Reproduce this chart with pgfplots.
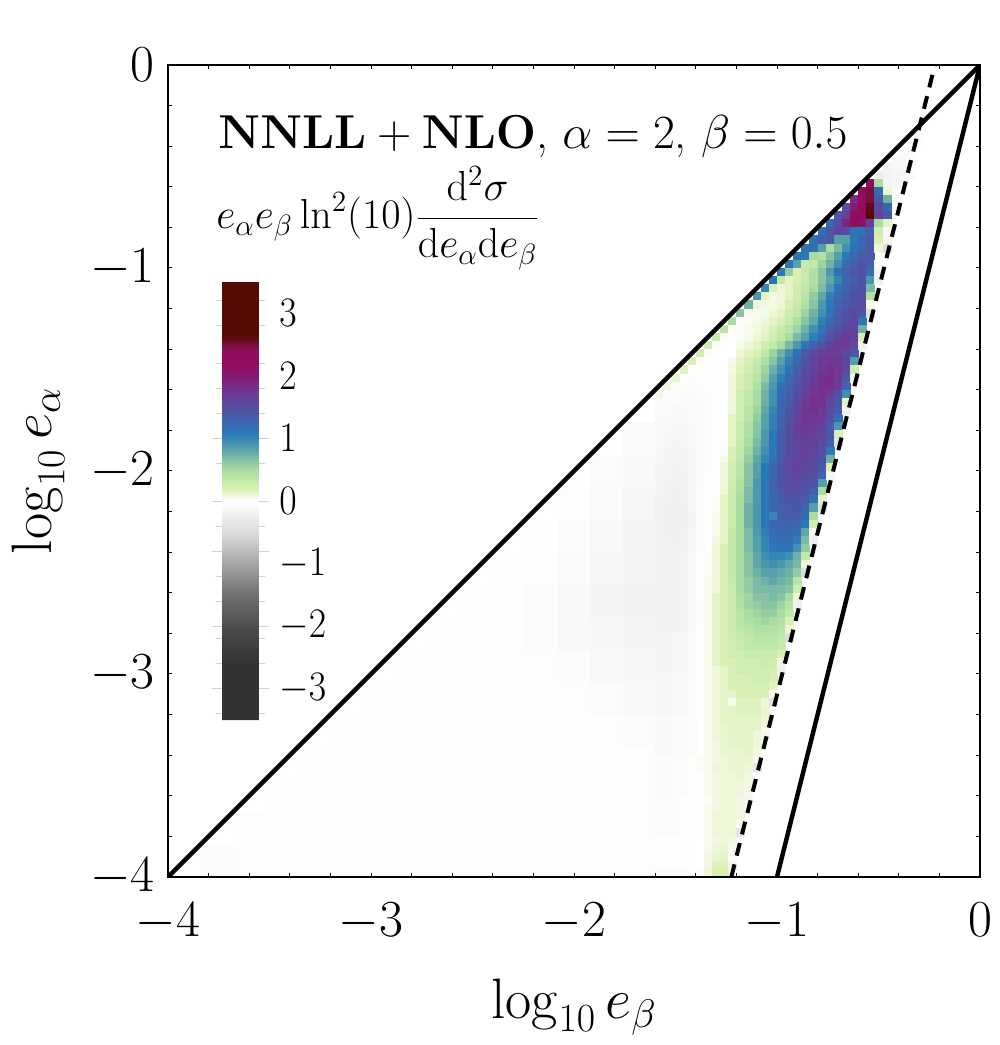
\RequirePackage{fix-cm}
\documentclass[border=0pt]{standalone}
\usepackage{pgfplots}
\usepackage{pgfplotstable}
\pgfplotsset{compat=1.18}

% all cell values are in units of 0.05 (60 = 3); 0 = empty cell
% coarse table: faint background, blocks of 4x4 cells, j = lower row
\pgfplotstableread{
j c0 c4 c8 c12 c16 c20 c24 c28 c32 c36 c40 c44 c48 c52 c56
52 0 0 0 0 0 0 0 0 0 0 0 0 0 0 -1.5
48 0 0 0 0 0 0 0 0 0 0 0 0 0 -1 -2
44 0 0 0 0 0 0 0 0 0 0 0 0 -.5 -1.5 -2.5
40 0 0 0 0 0 0 0 0 0 0 0 -.3 -1 -2 -3
36 0 0 0 0 0 0 0 0 0 0 -.2 -.5 -1.5 -2.5 -3
32 0 0 0 0 0 0 0 0 0 -.2 -.3 -1 -2 -3 -3.5
28 0 0 0 0 0 0 0 0 -.2 -.3 -.5 -1 -2 -2.5 -3
24 0 0 0 0 0 0 0 -.2 -.3 -.3 -.5 -.7 -1.2 -2 -2.5
20 0 0 0 0 0 0 -.2 .1 .1 .15 .15 -.2 -.5 -1 -2
16 0 0 0 0 0 -.2 .1 .15 .2 .2 .2 .2 .1 -.5 -1
12 0 0 0 0 -.3 -.2 .1 .15 .2 .2 .2 .2 .1 -.3 -.5
8 0 0 0 -.4 -.3 -.2 -.2 .1 .15 .15 .15 .1 -.2 -.3 -.5
4 0 0 -.7 -.5 -.4 -.4 -.4 -.3 -.3 -.3 -.3 -.3 -.3 -.5 -.5
0 0 -.8 -.7 -.6 -.6 -.6 -.6 -.6 -.6 -.6 -.6 -.6 -.6 -.6 -.7
}\coarse

% top right corner, above the main table
\pgfplotstableread{
j c87 c88 c89 c90 c91 c92
91 0 0 0 0 0 -.5
90 0 0 0 0 -1 -.5
89 0 0 0 -1 -1 0
88 0 0 -2 -1.5 -.5 0
87 0 -3 -2 -2 -1 0
86 -4 -3 -2.5 -2.5 -1 0
85 0 0 -2.5 -3 0 0
84 0 0 -1.5 -1 0 0
83 0 0 -2 0 0 0
82 0 0 -1 0 0 0
81 0 0 -.5 0 0 0
}\corner

% main table: row j, columns i = 60..88, cell i covers -4+0.04i .. -4+0.04(i+1)
\pgfplotstableread{
j c60 c61 c62 c63 c64 c65 c66 c67 c68 c69 c70 c71 c72 c73 c74 c75 c76 c77 c78 c79 c80 c81 c82 c83 c84 c85 c86 c87 c88
85 0 0 0 0 0  0 0 0 0 0  0 0 0 0 0  0 0 0 0 0  0 0 0 0 0  0 44 10 -3
84 0 0 0 0 0  0 0 0 0 0  0 0 0 0 0  0 0 0 0 0  0 0 0 0 0  44 50 24 2
83 0 0 0 0 0  0 0 0 0 0  0 0 0 0 0  0 0 0 0 0  0 0 0 0 37  44 50 28 15
82 0 0 0 0 0  0 0 0 0 0  0 0 0 0 0  0 0 0 0 0  0 0 0 30 40  44 52 31 25
81 0 0 0 0 0  0 0 0 0 0  0 0 0 0 0  0 0 0 0 0  0 0 28 34 44  44 56 33 28
80 0 0 0 0 0  0 0 0 0 0  0 0 0 0 0  0 0 0 0 0  0 25 31 38 44  42 34 10 3
79 0 0 0 0 0  0 0 0 0 0  0 0 0 0 0  0 0 0 0 0  24 28 32 30 23  23 27 5 -2
78 0 0 0 0 0  0 0 0 0 0  0 0 0 0 0  0 0 0 0 23  27 28 17 17 22  25 28 4 -3
77 0 0 0 0 0  0 0 0 0 0  0 0 0 0 0  0 0 0 23 24  17 10 14 19 23  25 28 2 -9
76 0 0 0 0 0  0 0 0 0 0  0 0 0 0 0  0 0 23 22 10  9 13 17 22 25  28 28 0 0
75 0 0 0 0 0  0 0 0 0 0  0 0 0 0 0  0 23 17 6 7  11 15 19 24 27  29 27 -1 0
74 0 0 0 0 0  0 0 0 0 0  0 0 0 0 0  22 12 4 6 9  13 18 23 26 28  29 24 -3 0
73 0 0 0 0 0  0 0 0 0 0  0 0 0 0 23  7 3 4 6 9  13 16 20 25 27  29 18 -4 0
72 0 0 0 0 0  0 0 0 0 0  0 0 0 20 4  2 3 5 7 10  14 18 23 26 28  30 14 0 0
71 0 0 0 0 0  0 0 0 0 0  0 0 18 3 1.5  2 3 5 8 12  16 21 25 27 29  30 9 0 0
70 0 0 0 0 0  0 0 0 0 0  0 15 2 1.5 1.5  2 4 6 9 13  18 22 26 28 29  31 1 0 0
69 0 0 0 0 0  0 0 0 0 0  13 1 1 1 2  3 5 7 11 15  19 23 27 29 31  29 -9 0 0
68 0 0 0 0 0  0 0 0 0 10  .5 .5 1 2 3  4 6 9 13 16  21 25 28 30 32  23 0 0 0
67 0 0 0 0 0  0 0 0 8 .5  .5 1 1.5 2.5 4  6 8 11 15 19  23 27 30 32 32  15 0 0 0
66 0 0 0 0 0  0 0 6 .5 0  .5 1 2 3 5  7 10 14 17 21  25 29 32 34 33  4 0 0 0
65 0 0 0 0 0  0 5 .5 0 0  1 2 3 5 7  10 14 18 22 26  29 33 34 34 31  -4 0 0 0
64 0 0 0 0 0  5 .5 0 0 0  2 3 4 7 11  15 19 23 28 31  33 34 34 31 28  0 0 0 0
63 0 0 0 0 4  .5 0 0 0 1  3 4 6 9 13  17 21 25 29 32  34 35 35 32 17  0 0 0 0
62 0 0 0 3.5 -.5  -.5 -.5 0 0 1.5  3.5 5 7 11 15  19 23 27 30 33  35 36 35 31 5  0 0 0 0
61 0 0 2.5 -.5 -.5  -.5 -.5 0 0 2  4 6 8 12 17  21 25 28 31 34  36 36 35 28 -3  0 0 0 0
60 0 2 -.5 -.5 -1  -.5 -.5 0 0 2  4 6 9 14 18  23 26 29 32 35  36 36 34 26 0  0 0 0 0
59 1.5 -.5 -1 -1 -1  -1 -.5 0 0 2  5 7 10 15 19  24 27 30 33 35  36 34 29 19 0  0 0 0 0
58 -1 -1 -1 -1.5 -1.5  -1 -1 -.5 0 2  5 7 10 15 19  25 28 31 34 36  36 31 28 3 0  0 0 0 0
57 -1.5 -1.5 -2 -2 -1.5  -1.5 -1 -.5 0 2  5 8 11 16 20  25 29 32 35 36  35 31 28 -4 0  0 0 0 0
56 -2 -2 -2 -2 -1.5  -1.5 -1 -.5 0 3  5 8 12 17 21  26 29 32 35 35  34 30 24 0 0  0 0 0 0
55 -2 -2 -2.5 -2.5 -2  -1.5 -1 -.5 0 3  6 9 13 17 21  26 30 33 35 34  33 28 18 0 0  0 0 0 0
54 -2 -2.5 -2.5 -2.5 -2  -1.5 -1 -.5 0 3  6 9 13 18 22  27 30 33 34 33  32 28 4 0 0  0 0 0 0
53 -2 -2.5 -3 -2.5 -2  -1.5 -1 -.5 .5 3  6 10 14 18 22  27 30 32 33 33  31 27 -8 0 0  0 0 0 0
52 -2.5 -3 -3 -3 -2.5  -1.5 -1 -.5 .5 4  7 11 15 19 22  27 30 32 33 32  30 22 0 0 0  0 0 0 0
51 -2.5 -3 -3 -3 -2.5  -1.5 -1 -.5 1 4  7 12 16 20 23  28 31 32 32 31  29 15 0 0 0  0 0 0 0
50 -3 -3 -3.5 -3 -2.5  -1.5 -1 0 2 5  8 13 17 22 25  29 31 33 32 31  28 4 0 0 0  0 0 0 0
49 -3 -3 -3.5 -3.5 -2.5  -1.5 -.5 0 2 5  8 13 17 22 25  29 31 32 31 30  25 -3 0 0 0  0 0 0 0
48 -3 -3.5 -3.5 -3.5 -2.5  -1.5 -.5 0 2 5  9 13 18 22 26  29 31 31 30 29  17 0 0 0 0  0 0 0 0
47 -3 -3.5 -4 -3.5 -2.5  -1 -.5 0 2 6  9 14 18 22 26  28 30 30 29 27  10 0 0 0 0  0 0 0 0
46 -3.5 -3.5 -4 -3.5 -2.5  -1 -.5 .5 3 6  10 14 18 22 25  28 29 29 28 23  3 0 0 0 0  0 0 0 0
45 -3.5 -4 -4 -4 -2.5  -1 -.5 .5 3 6  10 15 18 22 25  27 28 28 26 17  -8 0 0 0 0  0 0 0 0
44 -3.5 -4 -4 -4 -3  -1 -.5 1 3 6  10 15 18 22 20  27 27 27 25 10  0 0 0 0 0  0 0 0 0
43 -3.5 -4 -4 -4 -3  -1 -.5 1 3 6  10 15 18 22 25  26 26 25 22 5  0 0 0 0 0  0 0 0 0
42 -3.5 -4 -4 -3.5 -2.5  -1 -.5 1 3 7  10 14 18 21 24  25 25 24 16 1  0 0 0 0 0  0 0 0 0
41 -3.5 -3.5 -4 -3.5 -2.5  -1 0 1.5 3 7  10 14 17 20 23  24 24 21 14 -4  0 0 0 0 0  0 0 0 0
40 -3.5 -3.5 -3.5 -3.5 -2.5  -1 0 2 4 7  10 14 17 20 22  23 23 19 12 0  0 0 0 0 0  0 0 0 0
39 -3.5 -3.5 -3.5 -3 -2  -.5 .5 2 4 7  10 13 16 19 20  20 19 15 7 0  0 0 0 0 0  0 0 0 0
38 -3.5 -3.5 -3.5 -3 -2  -.5 .5 2 4 7  10 13 16 18 19  18 16 14 2 0  0 0 0 0 0  0 0 0 0
37 -3.5 -3.5 -3.5 -3 -2  -.5 .5 2 4 7  10 13 15 17 17  16 15 12 -9 0  0 0 0 0 0  0 0 0 0
36 -3.5 -3.5 -3.5 -3 -2  -.5 1 2 4 6  10 12 14 15 16  15 14 8 0 0  0 0 0 0 0  0 0 0 0
35 -3.5 -3.5 -3.5 -3 -2  -.5 1 2 4 6  10 12 14 14 14  14 13 5 0 0  0 0 0 0 0  0 0 0 0
34 -3.5 -3.5 -3.5 -3 -2  -.5 1 3 4 6  9 11 13 13 14  13 10 2 0 0  0 0 0 0 0  0 0 0 0
33 -3.5 -3.5 -3.5 -3 -2  .5 1 3 4 6  9 11 12 13 13  11 8 -4 0 0  0 0 0 0 0  0 0 0 0
32 -3.5 -3.5 -3.5 -3 -2  .5 1 3 4 6  8 10 11 12 12  10 7 0 0 0  0 0 0 0 0  0 0 0 0
31 -3.5 -3.5 -3.5 -3 -2  -.5 1 3 4 6  8 9 10 11 10  9 4 0 0 0  0 0 0 0 0  0 0 0 0
30 -3.5 -3.5 -3.5 -3 -2  -.5 1 3 4 6  7 8 9 9 9  8 2 0 0 0  0 0 0 0 0  0 0 0 0
29 -3 -3 -2.5 -2.5 -1.5  -.5 1 3 4 5  6 7 8 8 8  7 -9 0 0 0  0 0 0 0 0  0 0 0 0
28 -3 -3 -2.5 -2.5 -1.5  -.5 1 3 4 5  6 7 7 7 7  6 0 0 0 0  0 0 0 0 0  0 0 0 0
27 -3 -3 -2.5 -2.5 -1.5  -.5 1 3 4 5  5 6 6 6 6  4 0 0 0 0  0 0 0 0 0  0 0 0 0
26 -3 -3 -2.5 -2.5 -1.5  -.5 1 3 4 4  5 5 5 6 5  1.5 0 0 0 0  0 0 0 0 0  0 0 0 0
25 -3 -3 -2.5 -2.5 -1.5  -.5 1 2 3 4  5 5 5 5 4.5  -4 0 0 0 0  0 0 0 0 0  0 0 0 0
24 -2.5 -2.5 -2 -2 -1  -.5 1 2 3 4  4 4.5 5 5 4  0 0 0 0 0  0 0 0 0 0  0 0 0 0
23 -2.5 -2.5 -2 -2 -1  -.5 1 2 3 4  4 4 4.5 4.5 3  0 0 0 0 0  0 0 0 0 0  0 0 0 0
22 -2.5 -2.5 -2 -2 -1  -.5 1 2 3 3  4 4 4 4 1  0 0 0 0 0  0 0 0 0 0  0 0 0 0
21 -2.5 -2.5 -2 -2 -1  -.5 1 2 3 1  3.5 3.5 3.5 2 -8  0 0 0 0 0  0 0 0 0 0  0 0 0 0
20 -2.5 -2.5 -2 -2 -1  -.5 1 2 3 3  3.5 3.5 3.5 2.5 0  0 0 0 0 0  0 0 0 0 0  0 0 0 0
19 -2 -2 -1.5 -1.5 -1  0 1 2 3 3  3 3 3 2 0  0 0 0 0 0  0 0 0 0 0  0 0 0 0
18 -2 -2 -1.5 -1.5 -1  0 1 2 2.5 3  3 3 3 1 0  0 0 0 0 0  0 0 0 0 0  0 0 0 0
17 -2 -2 -1.5 -1.5 -1  0 1 2 2.5 3  3 3 2 -3 0  0 0 0 0 0  0 0 0 0 0  0 0 0 0
16 -2 -2 -1.5 -1.5 -1  0 1 1.5 2.5 3  3 3 2 0 0  0 0 0 0 0  0 0 0 0 0  0 0 0 0
15 -2 -2 -1.5 -1.5 -1  0 1 1.5 2.5 2.5  2.5 3 1.5 0 0  0 0 0 0 0  0 0 0 0 0  0 0 0 0
14 -1.5 -1.5 -1 -1 -.5  .5 1 1.5 2 2.5  2.5 2.5 1 0 0  0 0 0 0 0  0 0 0 0 0  0 0 0 0
13 -1.5 -1.5 -1 -1 -.5  .5 1 2 2 2.5  2.5 2 -8 0 0  0 0 0 0 0  0 0 0 0 0  0 0 0 0
12 -1.5 -1.5 -1 -1 -.5  0 1 1.5 2 2  2.5 1.5 0 0 0  0 0 0 0 0  0 0 0 0 0  0 0 0 0
11 -1.5 -1.5 -1 -1 -.5  0 1 1.5 2 2  2 1.5 0 0 0  0 0 0 0 0  0 0 0 0 0  0 0 0 0
10 -1.5 -1.5 -1 -1 -.5  0 1 1.5 2 2  2 1 0 0 0  0 0 0 0 0  0 0 0 0 0  0 0 0 0
9 -1 -1 -1 -.5 -.5  0 .5 1.5 2 2  1.5 -3 0 0 0  0 0 0 0 0  0 0 0 0 0  0 0 0 0
8 -1 -1 -1 -.5 -.5  0 1 1.5 2 2  1.5 0 0 0 0  0 0 0 0 0  0 0 0 0 0  0 0 0 0
7 -1 -1 -1 -.5 -.5  0 1 2 2 2  1.5 0 0 0 0  0 0 0 0 0  0 0 0 0 0  0 0 0 0
6 -1 -1 -1 -.5 -.5  0 1 2 2 2  1 0 0 0 0  0 0 0 0 0  0 0 0 0 0  0 0 0 0
5 -1 -1 -1 -.5 -.5  0 1 2 2 2  -7 0 0 0 0  0 0 0 0 0  0 0 0 0 0  0 0 0 0
4 -.5 -.5 -.5 -.5 0  0 1 1.5 2 1.5  0 0 0 0 0  0 0 0 0 0  0 0 0 0 0  0 0 0 0
3 -.5 -.5 -.5 -.5 0  0 1 2 2.5 1  0 0 0 0 0  0 0 0 0 0  0 0 0 0 0  0 0 0 0
2 -.5 -.5 -.5 -.5 0  0 1.5 2.5 3 .5  0 0 0 0 0  0 0 0 0 0  0 0 0 0 0  0 0 0 0
1 -.5 -.5 -.5 -.5 0  0 1.5 3.5 3.5 -3  0 0 0 0 0  0 0 0 0 0  0 0 0 0 0  0 0 0 0
0 -1 -1 -1 -1 -.5  .5 2 4 4 0  0 0 0 0 0  0 0 0 0 0  0 0 0 0 0  0 0 0 0
}\main

\pgfplotsset{
  cell/.style={
    only marks, scatter, scatter src=explicit, mark=square*, mark size=#1,
    scatter/use mapped color={draw=mapped color, fill=mapped color},
    mark options={line width=0.1pt}, forget plot
  }
}

\begin{document}
\begin{tikzpicture}
  \useasboundingbox (0,0) rectangle (500pt,522.5pt);
  \begin{axis}[
    at={(84pt,84pt)}, anchor=south west,
    scale only axis, width=406pt, height=406pt,
    xmin=-4, xmax=0, ymin=-4, ymax=0,
    clip mode=individual,
    xtick={-4,...,0}, ytick={-4,...,0},
    minor x tick num=4, minor y tick num=4,
    tick align=inside, tick style={black, line width=0.5pt},
    major tick length=2.2pt, minor tick length=2.2pt,
    axis line style={line width=1.4pt},
    axis on top,
    tick label style={font=\fontsize{26}{30}\selectfont, inner sep=0pt},
    xticklabel style={yshift=-12.7pt},
    yticklabel style={xshift=-6.4pt},
    xlabel={$\log_{10} e_\beta$},
    ylabel={$\log_{10} e_\alpha$},
    label style={font=\fontsize{28.5}{33}\selectfont},
    xlabel style={at={(axis description cs:0.5,-0.16)}, anchor=center},
    ylabel style={at={(axis description cs:-0.16,0.5)}, anchor=center, rotate=0},
    colormap={eventmap}{[1cm]
      rgb255(0cm)=(51,51,51) rgb255(18cm)=(51,51,51) rgb255(24cm)=(62,62,62)
      rgb255(30cm)=(78,78,78) rgb255(40cm)=(112,112,112) rgb255(50cm)=(165,165,165)
      rgb255(60cm)=(220,220,220) rgb255(66cm)=(240,240,240) rgb255(68cm)=(248,248,248)
      rgb255(70cm)=(255,255,255) rgb255(71cm)=(247,250,235) rgb255(72cm)=(238,247,216)
      rgb255(74cm)=(216,240,180) rgb255(77cm)=(192,232,168) rgb255(80cm)=(168,220,160)
      rgb255(83cm)=(136,196,164) rgb255(86cm)=(96,168,168) rgb255(90cm)=(54,136,180)
      rgb255(92cm)=(42,120,184) rgb255(95cm)=(58,104,176) rgb255(98cm)=(74,88,168)
      rgb255(101cm)=(90,74,160) rgb255(104cm)=(106,60,152) rgb255(107cm)=(122,42,136)
      rgb255(110cm)=(135,25,110) rgb255(114cm)=(146,12,94) rgb255(118cm)=(146,12,94)
      rgb255(120cm)=(120,16,62) rgb255(122cm)=(96,10,20) rgb255(124cm)=(87,10,0)
      rgb255(140cm)=(87,10,0)
    },
    point meta min=-70, point meta max=70,
    colorbar sampled,
    colorbar style={
      samples=281,
      at={(0.0665,0.1933)}, anchor=south west,
      width=18.5pt, height=219pt,
      axis line style={draw=none},
      ytick={-60,-40,-20,0,20,40,60},
      yticklabels={$-3$,$-2$,$-1$,$0$,$1$,$2$,$3$},
      yticklabel pos=right,
      tick label style={font=\fontsize{21}{24}\selectfont},
      major tick length=0pt,
      minor ytick={64,56,44,36,28,12,-8,-24,-32,-44,-52,-68},
      minor tick length=3pt,
      tick style={gray!35, line width=0.5pt},
      tick align=outside,
      extra y ticks={20,0,-16,-40,-60},
      extra y tick labels={},
      extra y tick style={major tick length=5pt, tick style={gray!35, line width=0.5pt}},
      yticklabel style={xshift=7pt, xscale=0.9},
    },
  ]
    \pgfplotsinvokeforeach{0,4,...,56}{
      \addplot[cell=8.1pt] table[x expr={-4+0.04*(#1+2)},
        y expr={\thisrow{c#1}==0 ? nan : -4+0.04*(\thisrow{j}+2)}, meta=c#1] {\coarse};
    }
    \pgfplotsinvokeforeach{87,...,92}{
      \addplot[cell=2pt] table[x expr={-4+0.04*(#1+0.5)},
        y expr={\thisrow{c#1}==0 ? nan : -4+0.04*(\thisrow{j}+0.5)}, meta=c#1] {\corner};
    }
    \pgfplotsinvokeforeach{60,...,88}{
      \addplot[cell=2pt] table[x expr={-4+0.04*(#1+0.5)},
        y expr={\thisrow{c#1}==0 ? nan : -4+0.04*(\thisrow{j}+0.5)}, meta=c#1] {\main};
    }
    \addplot[black, line width=2.2pt] coordinates {(-4,-4) (0,0)};
    \addplot[black, line width=2.2pt] coordinates {(-1,-4) (0,0)};
    \addplot[black, line width=2pt, dash pattern=on 6.5pt off 4.5pt] coordinates {(-1.225,-4) (-0.222,0)};
    \node[anchor=base west, inner sep=0pt, font=\fontsize{23.8}{28}\selectfont] at (rel axis cs:0.0616,0.8975)
      {$\mathbf{NNLL}+\mathbf{NLO}$, $\alpha=2$, $\beta=0.5$};
    \node[anchor=center, inner sep=0pt, font=\fontsize{21}{25}\selectfont] at (rel axis cs:0.2586,0.8115)
      {$\displaystyle e_\alpha e_\beta \ln^2(10)\frac{\mathrm{d}^2\sigma}{\mathrm{d}e_\alpha\mathrm{d}e_\beta}$};
  \end{axis}
\end{tikzpicture}
\end{document}
